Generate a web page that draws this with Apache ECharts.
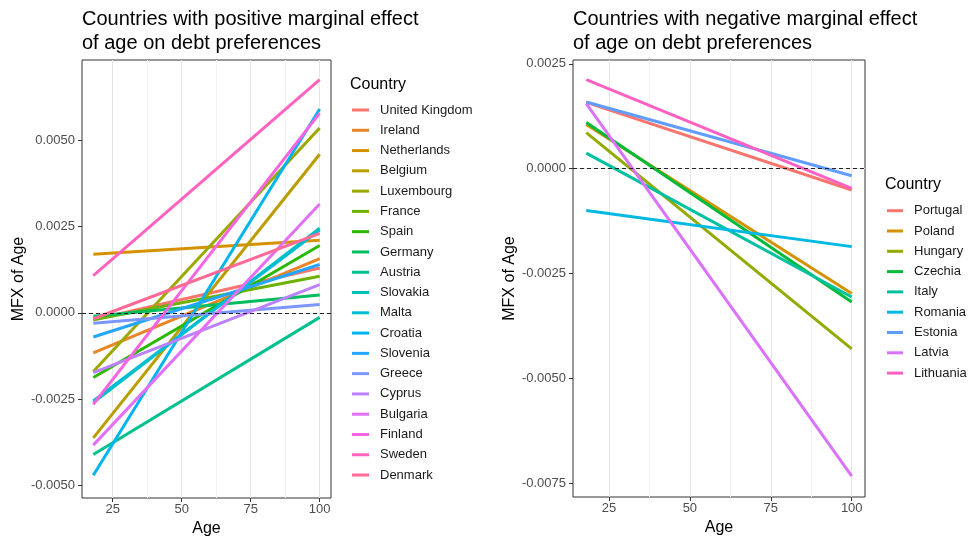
<!DOCTYPE html>
<html><head><meta charset="utf-8">
<script src="https://cdn.jsdelivr.net/npm/echarts@6/dist/echarts.min.js"></script>
<style>html,body{margin:0;padding:0;background:#fff}#c{width:974px;height:542px}</style>
</head><body><div id="c"></div>
<script>
// ---- data ----
const ages = [18, 100];

const posCountries = ['United Kingdom','Ireland','Netherlands','Belgium','Luxembourg','France','Spain','Germany','Austria','Slovakia','Malta','Croatia','Slovenia','Greece','Cyprus','Bulgaria','Finland','Sweden','Denmark'];
const posStart = [-0.0002, -0.00116, 0.0017, -0.00362, -0.0017, -0.0002, -0.00187, -0.0001, -0.0041, -0.0026, -0.00255, -0.0047, -0.0007, -0.0003, -0.00173, -0.00383, -0.00265, 0.00108, -0.00017];
const posEnd   = [0.0013, 0.00157, 0.0021, 0.00459, 0.00535, 0.00106, 0.00195, 0.00052, -0.00013, 0.00245, 0.0024, 0.0059, 0.0014, 0.00024, 0.00082, 0.00315, 0.00578, 0.00675, 0.0023];
const posColors = ['#F8766D','#E88526','#D59100','#BB9D00','#9CA700','#6EB100','#2AB800','#00BD5F','#00C08E','#00C1B2','#00BDD3','#00B5EE','#24A6FF','#7B97FF','#BD80FF','#E26FF7','#F763E0','#FF62BF','#FF6A97'];

const negCountries = ['Portugal','Poland','Hungary','Czechia','Italy','Romania','Estonia','Latvia','Lithuania'];
const negStart = [0.00158, 0.00105, 0.00086, 0.0011, 0.00037, -0.001, 0.00159, 0.00155, 0.00212];
const negEnd   = [-0.00051, -0.00298, -0.0043, -0.00318, -0.00306, -0.00186, -0.00017, -0.00733, -0.00047];
const negColors = ['#F8766D','#D39200','#93AA00','#00BA38','#00C19F','#00B9E3','#619CFF','#DB72FB','#FF61C3'];

const xTicks = [25, 50, 75, 100];
const xMinor = [37.5, 62.5, 87.5];
const yTicksLeft = [-0.005, -0.0025, 0, 0.0025, 0.005];
const yMinorLeft = [-0.00375, -0.00125, 0.00125, 0.00375, 0.00625];
const yTicksRight = [-0.0075, -0.005, -0.0025, 0, 0.0025];
const yMinorRight = [-0.00625, -0.00375, -0.00125, 0.00125];

// ---- chart ----
const FF = '"Liberation Sans", Arial, sans-serif';
const chart = echarts.init(document.getElementById('c'), null, {renderer: 'canvas'});

function xAxisDef(gi) {
  return {
    type: 'value', gridIndex: gi, min: 13.9, max: 104.1,
    splitLine: {show: false},
    axisLine: {show: false, onZero: false},
    axisTick: {show: true, length: 4, lineStyle: {color: '#333'}, customValues: xTicks},
    axisLabel: {customValues: xTicks, color: '#4D4D4D', fontSize: 13, margin: 5, fontFamily: FF},
    name: 'Age', nameLocation: 'middle', nameGap: 17,
    nameTextStyle: {fontSize: 16, color: '#000', fontFamily: FF}
  };
}
function yAxisDef(gi, min, max, ticks) {
  return {
    type: 'value', gridIndex: gi, min: min, max: max,
    splitLine: {show: false},
    axisLine: {show: false, onZero: false},
    axisTick: {show: true, length: 4, lineStyle: {color: '#333'}, customValues: ticks},
    axisLabel: {customValues: ticks, formatter: v => v.toFixed(4), color: '#4D4D4D', fontSize: 13, margin: 7, fontFamily: FF},
    name: 'MFX of Age', nameLocation: 'middle', nameGap: 55, nameRotate: 90,
    nameTextStyle: {fontSize: 16, color: '#000', fontFamily: FF}
  };
}
function gridSeries(gi, xs, ys, color, tag) {
  const d = [];
  xs.forEach(v => d.push({xAxis: v}));
  ys.forEach(v => d.push({yAxis: v}));
  return {
    name: tag + gi, type: 'line', xAxisIndex: gi, yAxisIndex: gi, data: [], silent: true, z: 1,
    markLine: {silent: true, z: 1, symbol: ['none', 'none'], label: {show: false}, animation: false,
      lineStyle: {color: color, width: 1, type: 'solid', opacity: 1},
      emphasis: {disabled: true}, data: d}
  };
}
function zeroSeries(gi) {
  return {
    name: 'zero' + gi, type: 'line', xAxisIndex: gi, yAxisIndex: gi, data: [], silent: true, z: 10,
    markLine: {silent: true, z: 10, symbol: ['none', 'none'], label: {show: false}, animation: false,
      emphasis: {disabled: true},
      lineStyle: {color: '#222', width: 1, type: [4, 3]},
      data: [{yAxis: 0}]}
  };
}
function lineSeries(names, starts, ends, colors, gi) {
  return names.map((n, i) => ({
    name: n, type: 'line', xAxisIndex: gi, yAxisIndex: gi,
    data: ages.map((a, k) => [a, k === 0 ? starts[i] : ends[i]]),
    symbol: 'none', showSymbol: false, z: 3,
    lineStyle: {width: 3, color: colors[i]}, itemStyle: {color: colors[i]},
    emphasis: {disabled: true}, animation: false
  }));
}

const titleStyle = {fontSize: 20, fontWeight: 'normal', color: '#000', lineHeight: 24, fontFamily: FF};
const legTitleStyle = {fontSize: 16, fontWeight: 'normal', color: '#000', lineHeight: 16, fontFamily: FF};
const legText = {fontSize: 13, lineHeight: 14, color: '#1A1A1A', padding: [0, 0, 0, 6], fontFamily: FF};

chart.setOption({
  animation: false,
  backgroundColor: '#fff',
  title: [
    {text: 'Countries with positive marginal effect\nof age on debt preferences', left: 82, top: 7, padding: 0, textStyle: titleStyle},
    {text: 'Countries with negative marginal effect\nof age on debt preferences', left: 573, top: 7, padding: 0, textStyle: titleStyle},
    {text: 'Country', left: 350, top: 77, padding: 0, textStyle: legTitleStyle},
    {text: 'Country', left: 885, top: 177, padding: 0, textStyle: legTitleStyle}
  ],
  legend: [
    {data: posCountries, orient: 'vertical', left: 352, top: 103, padding: 0, itemWidth: 17, itemHeight: 3,
     itemGap: 6.28, icon: 'rect', selectedMode: false, textStyle: legText},
    {data: negCountries, orient: 'vertical', left: 887, top: 203.7, padding: 0, itemWidth: 16, itemHeight: 3,
     itemGap: 6.3, icon: 'rect', selectedMode: false, textStyle: legText}
  ],
  grid: [
    {left: 82, top: 60, width: 249, height: 438, show: true, borderColor: '#333', borderWidth: 1, backgroundColor: 'transparent'},
    {left: 573, top: 60, width: 292, height: 437, show: true, borderColor: '#333', borderWidth: 1, backgroundColor: 'transparent'}
  ],
  xAxis: [xAxisDef(0), xAxisDef(1)],
  yAxis: [yAxisDef(0, -0.00536, 0.00732, yTicksLeft), yAxisDef(1, -0.00783, 0.00259, yTicksRight)],
  series: [
    gridSeries(0, xMinor, yMinorLeft, '#F3F3F3', 'minor'),
    gridSeries(1, xMinor, yMinorRight, '#F3F3F3', 'minor'),
    gridSeries(0, xTicks, yTicksLeft, '#E6E6E6', 'major'),
    gridSeries(1, xTicks, yTicksRight, '#E6E6E6', 'major'),
    ...lineSeries(posCountries, posStart, posEnd, posColors, 0),
    ...lineSeries(negCountries, negStart, negEnd, negColors, 1),
    zeroSeries(0),
    zeroSeries(1)
  ]
});
</script>
</body></html>
